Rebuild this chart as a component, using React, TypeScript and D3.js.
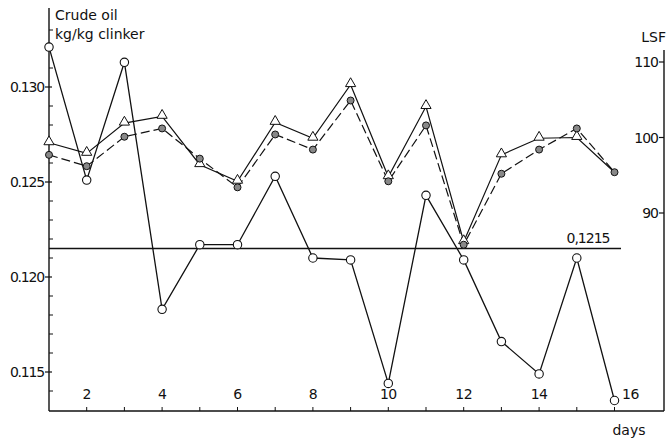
import { useEffect, useRef } from 'react';
import * as d3 from 'd3';

const days = [1, 2, 3, 4, 5, 6, 7, 8, 9, 10, 11, 12, 13, 14, 15, 16];
// crude oil, kg/kg clinker (left axis)
const crudeOil = [0.1321, 0.1251, 0.1313, 0.1183, 0.1217, 0.1217, 0.1253, 0.1210, 0.1209, 0.1144, 0.1243, 0.1209, 0.1166, 0.1149, 0.1210, 0.1135];
// LSF, solid line with triangles (right axis)
const lsfTriangle = [99.3, 97.9, 101.9, 102.8, 96.4, 94.2, 102.0, 99.9, 107.0, 94.8, 104.1, 86.2, 97.7, 99.9, 100.0, 95.4];
// LSF, dashed line with filled dots (right axis)
const lsfDot = [97.7, 96.2, 100.1, 101.2, 97.2, 93.4, 100.4, 98.4, 104.9, 94.2, 101.6, 85.8, 95.2, 98.4, 101.2, 95.4];
const leftTicks = [0.115, 0.120, 0.125, 0.130];
const leftMinor = [0.114, 0.116, 0.117, 0.118, 0.119, 0.121, 0.122, 0.123, 0.124, 0.126, 0.127, 0.128, 0.129, 0.131, 0.132, 0.133];
const rightTicks = [90, 100, 110];
const dayLabels = [2, 4, 6, 8, 10, 12, 14, 16];
const refValue = 0.1215;

const App = () => {
  const svgRef = useRef<SVGSVGElement>(null);

  useEffect(() => {
    const svg = d3.select(svgRef.current);
    svg.selectAll("*").remove();

    const font = "'DejaVu Sans', sans-serif";
    const axisLeftX = 49;
    const axisRightX = 664;
    const axisBottomY = 411;

    const x = d3.scaleLinear().domain([1, 16]).range([49, 614.5]);
    const yL = d3.scaleLinear().domain([0.115, 0.130]).range([372, 87]);
    const yR = d3.scaleLinear().domain([90, 110]).range([213, 62]);

    const g = svg.append("g");

    const txt = (sel: any, size: number) =>
      sel.style("font-family", font).style("font-size", `${size}px`)
        .attr("fill", "#111");

    // axes lines
    g.append("line")
      .attr("x1", axisLeftX).attr("x2", axisLeftX)
      .attr("y1", 8).attr("y2", axisBottomY)
      .attr("stroke", "#111").attr("stroke-width", 1.4);
    g.append("line")
      .attr("x1", axisLeftX).attr("x2", axisRightX)
      .attr("y1", axisBottomY).attr("y2", axisBottomY)
      .attr("stroke", "#111").attr("stroke-width", 1.4);
    g.append("line")
      .attr("x1", axisRightX).attr("x2", axisRightX)
      .attr("y1", 50).attr("y2", axisBottomY)
      .attr("stroke", "#111").attr("stroke-width", 1.4);

    // left ticks
    g.selectAll(".lmaj").data(leftTicks).enter().append("line")
      .attr("x1", axisLeftX - 4).attr("x2", axisLeftX + 3)
      .attr("y1", d => yL(d)).attr("y2", d => yL(d))
      .attr("stroke", "#111").attr("stroke-width", 1.2);
    g.selectAll(".lmin").data(leftMinor).enter().append("line")
      .attr("x1", axisLeftX).attr("x2", axisLeftX + 4)
      .attr("y1", d => yL(d)).attr("y2", d => yL(d))
      .attr("stroke", "#111").attr("stroke-width", 1);
    txt(g.selectAll(".llab").data(leftTicks).enter().append("text")
      .attr("x", axisLeftX - 5).attr("y", d => yL(d) + 5)
      .attr("text-anchor", "end")
      .style("letter-spacing", "-1.2px")
      .text(d => d.toFixed(3)), 14);

    // right ticks
    g.selectAll(".rmaj").data(rightTicks).enter().append("line")
      .attr("x1", axisRightX - 5).attr("x2", axisRightX)
      .attr("y1", d => yR(d)).attr("y2", d => yR(d))
      .attr("stroke", "#111").attr("stroke-width", 1.2);
    txt(g.selectAll(".rlab").data(rightTicks).enter().append("text")
      .attr("x", axisRightX - 6).attr("y", d => yR(d) + 5)
      .attr("text-anchor", "end")
      .style("letter-spacing", "-1px")
      .text(d => String(d)), 14);
    txt(g.append("text")
      .attr("x", 666).attr("y", 42).attr("text-anchor", "end")
      .text("LSF"), 14);

    // bottom ticks
    g.selectAll(".btick").data(days.slice(1)).enter().append("line")
      .attr("x1", d => x(d)).attr("x2", d => x(d))
      .attr("y1", axisBottomY - 4).attr("y2", axisBottomY)
      .attr("stroke", "#111").attr("stroke-width", 1);
    txt(g.selectAll(".blab").data(dayLabels).enter().append("text")
      .attr("x", d => d === 16 ? x(d) + 16 : x(d))
      .attr("y", axisBottomY - 12)
      .attr("text-anchor", "middle")
      .style("letter-spacing", "-0.5px")
      .text(d => String(d)), 14);
    txt(g.append("text")
      .attr("x", 629).attr("y", 435).attr("text-anchor", "middle")
      .text("days"), 14);

    // titles
    txt(g.append("text")
      .attr("x", 55).attr("y", 20)
      .text("Crude oil"), 14);
    txt(g.append("text")
      .attr("x", 55).attr("y", 39)
      .text("kg/kg clinker"), 14);

    // reference line
    g.append("line")
      .attr("x1", axisLeftX).attr("x2", 621)
      .attr("y1", yL(refValue)).attr("y2", yL(refValue))
      .attr("stroke", "#111").attr("stroke-width", 1.6);
    txt(g.append("text")
      .attr("x", 588).attr("y", yL(refValue) - 6).attr("text-anchor", "middle")
      .style("letter-spacing", "-1px")
      .text("0,1215"), 14);

    // LSF dashed line
    const lineR = d3.line<number>().x((_, i) => x(days[i])).y(d => yR(d));
    g.append("path").datum(lsfDot)
      .attr("d", lineR).attr("fill", "none")
      .attr("stroke", "#111").attr("stroke-width", 1.2)
      .attr("stroke-dasharray", "9,4");
    // LSF solid line
    g.append("path").datum(lsfTriangle)
      .attr("d", lineR).attr("fill", "none")
      .attr("stroke", "#111").attr("stroke-width", 1.2);
    // crude oil line
    const lineL = d3.line<number>().x((_, i) => x(days[i])).y(d => yL(d));
    g.append("path").datum(crudeOil)
      .attr("d", lineL).attr("fill", "none")
      .attr("stroke", "#111").attr("stroke-width", 1.3);

    // triangles
    const tri = d3.symbol().type(d3.symbolTriangle).size(45);
    g.selectAll(".tri").data(lsfTriangle.slice(0, 15)).enter().append("path")
      .attr("d", tri)
      .attr("transform", (d, i) => `translate(${x(days[i])},${yR(d) - 1})`)
      .attr("fill", "#fff").attr("stroke", "#111").attr("stroke-width", 1);
    // filled dots
    g.selectAll(".dot").data(lsfDot).enter().append("circle")
      .attr("cx", (_, i) => x(days[i])).attr("cy", d => yR(d))
      .attr("r", 3.5)
      .attr("fill", "#888").attr("stroke", "#111").attr("stroke-width", 1);
    // open circles
    g.selectAll(".oc").data(crudeOil).enter().append("circle")
      .attr("cx", (_, i) => x(days[i])).attr("cy", d => yL(d))
      .attr("r", 4.2)
      .attr("fill", "#fff").attr("stroke", "#111").attr("stroke-width", 1.1);
  }, []);

  return (
    <svg ref={svgRef} width={671} height={440}
      style={{ position: 'absolute', left: 0, top: 0, background: '#fff' }} />
  );
};

export default App;
